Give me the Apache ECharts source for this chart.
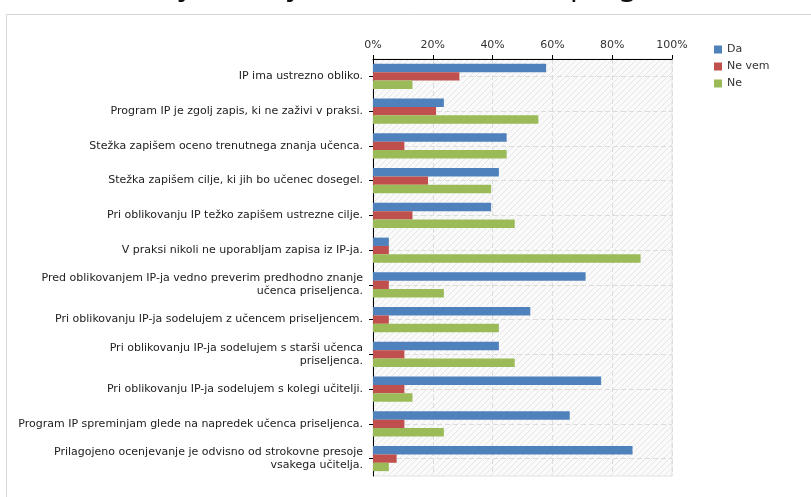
<!DOCTYPE html>
<html>
<head>
<meta charset="utf-8">
<script src="https://cdn.jsdelivr.net/npm/echarts@6/dist/echarts.min.js"></script>
<style>
  html, body { margin: 0; padding: 0; background: #fff; }
  #chart { width: 811px; height: 497px; }
</style>
</head>
<body>
<div id="chart"></div>
<script>
// Statements about the individual programme (IP)
const categories = [
  'IP ima ustrezno obliko.',
  'Program IP je zgolj zapis, ki ne zaživi v praksi.',
  'Stežka zapišem oceno trenutnega znanja učenca.',
  'Stežka zapišem cilje, ki jih bo učenec dosegel.',
  'Pri oblikovanju IP težko zapišem ustrezne cilje.',
  'V praksi nikoli ne uporabljam zapisa iz IP-ja.',
  'Pred oblikovanjem IP-ja vedno preverim predhodno znanje\nučenca priseljenca.',
  'Pri oblikovanju IP-ja sodelujem z učencem priseljencem.',
  'Pri oblikovanju IP-ja sodelujem s starši učenca\npriseljenca.',
  'Pri oblikovanju IP-ja sodelujem s kolegi učitelji.',
  'Program IP spreminjam glede na napredek učenca priseljenca.',
  'Prilagojeno ocenjevanje je odvisno od strokovne presoje\nvsakega učitelja.'
];

// Share of answers, in percent
const da    = [57.9, 23.7, 44.7, 42.1, 39.5, 5.3, 71.1, 52.6, 42.1, 76.3, 65.8, 86.8];
const neVem = [28.9, 21.1, 10.5, 18.4, 13.2, 5.3, 5.3, 5.3, 10.5, 10.5, 10.5, 7.9];
const ne    = [13.2, 55.3, 44.7, 39.5, 47.4, 89.5, 23.7, 42.1, 47.4, 13.2, 23.7, 5.3];

const seriesNames = ['Da', 'Ne vem', 'Ne'];
const xTicks = [0, 20, 40, 60, 80, 100];

// Light diagonal hatching for the plot background
function hatchPattern() {
  const c = document.createElement('canvas');
  c.width = 6; c.height = 6;
  const ctx = c.getContext('2d');
  ctx.fillStyle = '#fafafa';
  ctx.fillRect(0, 0, 6, 6);
  ctx.strokeStyle = '#e6e6e6';
  ctx.lineWidth = 1;
  ctx.beginPath();
  ctx.moveTo(0, 6); ctx.lineTo(6, 0);
  ctx.moveTo(-1, 1); ctx.lineTo(1, -1);
  ctx.moveTo(5, 7); ctx.lineTo(7, 5);
  ctx.stroke();
  return { image: c, repeat: 'repeat' };
}

const chart = echarts.init(document.getElementById('chart'), null, { renderer: 'canvas' });

const colors = ['#4F81BD', '#C0504D', '#9BBB59'];
const values = [da, neVem, ne];

chart.setOption({
  animation: false,
  backgroundColor: '#fff',
  title: {
    text: 'Mnenja učiteljev o individualnem programu',
    left: 'center',
    top: -34,
    textStyle: { fontFamily: 'Noto Sans', fontSize: 30, fontWeight: 'normal', color: '#111' }
  },
  graphic: [
    { type: 'line', shape: { x1: 6.5, y1: 14.5, x2: 811, y2: 14.5 }, style: { stroke: '#d6d6d6', lineWidth: 1 } },
    { type: 'line', shape: { x1: 6.5, y1: 14.5, x2: 6.5, y2: 497 }, style: { stroke: '#d6d6d6', lineWidth: 1 } }
  ],
  legend: {
    data: seriesNames,
    orient: 'vertical',
    left: 709,
    top: 39,
    itemWidth: 8,
    itemHeight: 8,
    itemGap: 6,
    icon: 'rect',
    itemStyle: { borderWidth: 0 },
    textStyle: { fontFamily: 'DejaVu Sans', fontSize: 11, color: '#333' }
  },
  grid: {
    left: 373,
    right: 139,
    top: 59,
    bottom: 21,
    show: true,
    backgroundColor: hatchPattern(),
    borderColor: '#e2e2e2',
    borderWidth: 1
  },
  xAxis: {
    type: 'value',
    position: 'top',
    min: 0,
    max: 100,
    interval: 20,
    axisLine: { show: true, lineStyle: { color: '#000', width: 1 } },
    axisTick: { show: true, length: 4, lineStyle: { color: '#000' } },
    axisLabel: {
      margin: 8,
      fontFamily: 'DejaVu Sans',
      fontSize: 11,
      color: '#333',
      formatter: v => (xTicks.includes(v) ? v + '%' : '')
    },
    splitLine: { show: true, lineStyle: { color: '#dcdcdc', type: [5, 3] } }
  },
  yAxis: {
    type: 'category',
    data: categories,
    inverse: true,
    axisLine: { show: true, lineStyle: { color: '#000', width: 1 } },
    axisTick: { show: true, alignWithLabel: true, length: 4, lineStyle: { color: '#000' } },
    axisLabel: {
      margin: 10,
      fontFamily: 'DejaVu Sans',
      fontSize: 11,
      color: '#222',
      lineHeight: 13,
      align: 'right'
    },
    splitLine: { show: true, alignWithLabel: true, lineStyle: { color: '#dcdcdc', type: [5, 3] } }
  },
  series: seriesNames.map((name, i) => ({
    name,
    type: 'bar',
    data: values[i],
    barGap: '0%',
    barCategoryGap: '28%',
    itemStyle: { color: colors[i] }
  }))
});
</script>
</body>
</html>
